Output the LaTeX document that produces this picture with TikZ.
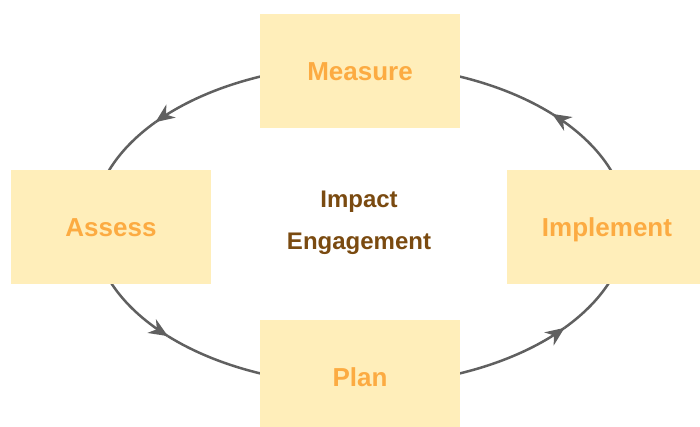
\documentclass[tikz,border=0pt]{standalone}
\usepackage{fontspec}
\setmainfont{Liberation Sans}
\usetikzlibrary{arrows.meta,decorations.markings}
\definecolor{boxfill}{HTML}{FFEEBA}
\definecolor{labelcol}{HTML}{FCAB42}
\definecolor{centercol}{HTML}{7A4A10}
\definecolor{linecol}{HTML}{606060}
\tikzset{
  stagebox/.style={fill=boxfill, draw=none, minimum width=200pt, minimum height=114pt,
    inner sep=0pt, text height=19pt, text depth=0pt, text=labelcol,
    font=\fontsize{26}{30}\selectfont\bfseries},
  centertext/.style={text=centercol, inner sep=0pt, font=\fontsize{24}{28}\selectfont\bfseries},
  cycleline/.style={draw=linecol, line width=2.5pt},
  arrowend/.style={cycleline, postaction={decorate},
    decoration={markings, mark=at position 1 with {\arrow[linecol]{Stealth[length=19pt,width=16pt,inset=6pt]}}}},
  ell/.style={x radius=267, y radius=160}
}
\begin{document}
\begin{tikzpicture}[x=1pt,y=1pt]
\useasboundingbox (0,0) rectangle (700,427);
\clip (0,0) rectangle (700,427);
\coordinate (c) at (360,202);
% cycle arcs (counterclockwise)
\draw[arrowend] ([shift={(0:267 and 160)}]c) arc[start angle=0, end angle=44, ell];
\draw[cycleline] ([shift={(44:267 and 160)}]c) arc[start angle=44, end angle=90, ell];
\draw[arrowend] ([shift={(90:267 and 160)}]c) arc[start angle=90, end angle=140, ell];
\draw[cycleline] ([shift={(140:267 and 160)}]c) arc[start angle=140, end angle=180, ell];
\draw[arrowend] ([shift={(180:267 and 160)}]c) arc[start angle=180, end angle=224, ell];
\draw[cycleline] ([shift={(224:267 and 160)}]c) arc[start angle=224, end angle=270, ell];
\draw[arrowend] ([shift={(270:267 and 160)}]c) arc[start angle=270, end angle=320, ell];
\draw[cycleline] ([shift={(320:267 and 160)}]c) arc[start angle=320, end angle=360, ell];
% boxes
\node[stagebox] (measure) at (360,356) {Measure};
\node[stagebox] (assess) at (111,200) {Assess};
\node[stagebox] (implement) at (607,200) {Implement};
\node[stagebox] (plan) at (360,50) {Plan};
% centre text
\node[centertext, anchor=base] (impact) at (359,219) {Impact};
\node[centertext, anchor=base] (engagement) at (359,177) {Engagement};
\end{tikzpicture}
\end{document}
